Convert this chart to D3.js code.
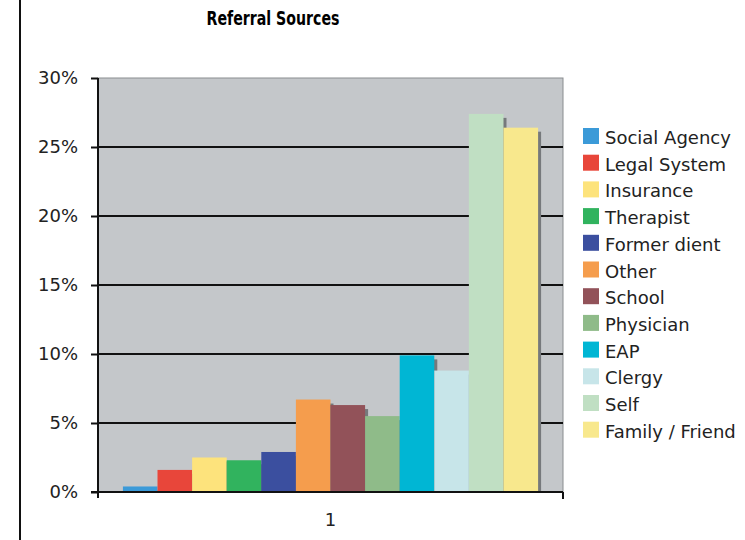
<!DOCTYPE html>
<html>
<head>
<meta charset="utf-8">
<style>
    body { margin: 0; background: #fff; }
    text { font-family: "DejaVu Sans", Verdana, sans-serif; }
</style>
</head>
<body>
    <svg id="container" width="745" height="540"></svg>
</body>
<script src="https://cdn.jsdelivr.net/npm/d3@7"></script>
<script>
    // chart data
    let groups = ["1"]
    let categories = ["Social Agency", "Legal System", "Insurance", "Therapist", "Former dient",
                      "Other", "School", "Physician", "EAP", "Clergy", "Self", "Family / Friend"]
    let values = [0.4, 1.6, 2.5, 2.3, 2.9, 6.7, 6.3, 5.5, 9.9, 8.8, 27.4, 26.4]
    let colors = ["#3b9ad8", "#e8463a", "#fde37c", "#31b35e", "#3b4f9f", "#f59d4d",
                  "#925259", "#8fbb89", "#00b6d4", "#c7e5e9", "#c0dfc3", "#f8e88d"]
    let yTicks = [0, 5, 10, 15, 20, 25, 30]

    let svg = d3.select("#container")

    // left frame line
    svg.append("line")
        .attr("x1", 20).attr("x2", 20).attr("y1", 0).attr("y2", 540)
        .attr("stroke", "#111").attr("stroke-width", 2)

    // title (narrow bold face)
    svg.append("text")
        .attr("x", 273).attr("y", 25)
        .attr("text-anchor", "middle")
        .attr("textLength", 133).attr("lengthAdjust", "spacingAndGlyphs")
        .style("font-weight", "bold")
        .style("font-size", "19px")
        .text("Referral Sources")

    let plotLeft = 98, plotTop = 78, width = 465, height = 414
    let body = svg.append("g").attr("transform", `translate(${plotLeft},${plotTop})`)

    let y = d3.scaleLinear().domain([0, 30]).range([height, 0])
    let x0 = d3.scaleBand().domain(groups).range([0, width]).paddingOuter(0.06)
    let x1 = d3.scaleBand().domain(categories).range([0, x0.bandwidth()])

    // plot background
    body.append("rect")
        .attr("width", width).attr("height", height)
        .attr("fill", "#c4c7ca").attr("stroke", "#8a8d90").attr("stroke-width", 1)

    // gridlines
    body.selectAll(".grid")
        .data(yTicks.filter(d => d > 0 && d < 30))
        .enter().append("line")
        .attr("x1", 0).attr("x2", width)
        .attr("y1", d => y(d)).attr("y2", d => y(d))
        .attr("stroke", "#111").attr("stroke-width", 2)

    let g = body.append("g").attr("transform", `translate(${x0("1")},0)`)

    // bar shadows
    g.selectAll(".shadow")
        .data(values)
        .enter().append("rect")
        .attr("x", (d, i) => x1(categories[i]) + 3)
        .attr("y", d => y(d) + 4)
        .attr("width", x1.bandwidth())
        .attr("height", d => y(0) - y(d) - 4)
        .attr("fill", "#76797c")

    // bars
    g.selectAll(".bar")
        .data(values)
        .enter().append("rect")
        .attr("x", (d, i) => x1(categories[i]))
        .attr("y", d => y(d))
        .attr("width", x1.bandwidth())
        .attr("height", d => y(0) - y(d))
        .attr("fill", (d, i) => colors[i])

    // y axis
    let yAxis = d3.axisLeft(y).tickValues(yTicks).tickFormat(d => d + "%").tickSize(7).tickPadding(13)
    let ya = body.append("g").call(yAxis)
    ya.select(".domain").remove()
    ya.selectAll("line").attr("stroke", "#111").attr("stroke-width", 2)
    ya.selectAll("text").style("font-size", "18px").attr("fill", "#222")
    body.append("line")
        .attr("x1", 0).attr("x2", 0).attr("y1", 0).attr("y2", height + 6)
        .attr("stroke", "#111").attr("stroke-width", 2)

    // x axis
    body.append("line")
        .attr("x1", -7).attr("x2", width).attr("y1", height).attr("y2", height)
        .attr("stroke", "#111").attr("stroke-width", 2)
    body.append("line")
        .attr("x1", width).attr("x2", width).attr("y1", height).attr("y2", height + 7)
        .attr("stroke", "#111").attr("stroke-width", 2)
    body.append("text")
        .attr("x", x0("1") + x0.bandwidth() / 2).attr("y", height + 34)
        .attr("text-anchor", "middle")
        .style("font-size", "18px").attr("fill", "#222")
        .text(groups[0])

    // legend
    let legend = svg.append("g").attr("transform", "translate(583,130)")
    let item = legend.selectAll("g")
        .data(categories)
        .enter().append("g")
        .attr("transform", (d, i) => `translate(0,${i * 26.7})`)
    item.append("rect")
        .attr("y", -2)
        .attr("width", 16).attr("height", 16)
        .attr("fill", (d, i) => colors[i])
    item.append("text")
        .attr("x", 22).attr("y", 14)
        .style("font-size", "18px").attr("fill", "#222")
        .text(d => d)
</script>
</html>
